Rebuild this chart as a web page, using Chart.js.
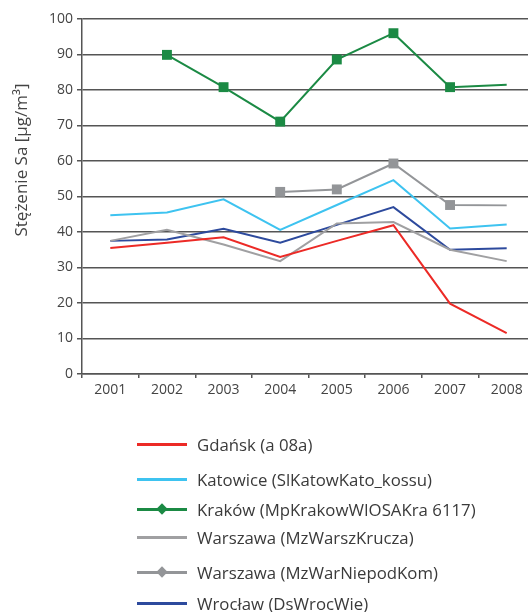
<!DOCTYPE html>
<html lang="pl">
<head>
<meta charset="UTF-8">
<title>Stężenie Sa</title>
<script src="https://cdn.jsdelivr.net/npm/chart.js"></script>
<style>
    body { margin: 0; width: 528px; height: 612px; overflow: hidden; background: #fff; font-family: 'Open Sans', sans-serif; }
    #wykres { position: absolute; left: 0; top: 0; }
    .poz { position: absolute; left: 137px; height: 20px; display: flex; align-items: center; white-space: nowrap; font-size: 16.8px; color: #3a3a3a; }
    .linia { position: relative; width: 50px; height: 3px; margin-right: 10px; }
    .romb { position: absolute; left: 21px; top: -3px; width: 8px; height: 8px; transform: rotate(45deg); }
</style>
</head>
<body>
<canvas id="wykres" width="560" height="612"></canvas>
<div id="legenda"></div>
<script>
// lata i wartości
const lata = ['2001', '2002', '2003', '2004', '2005', '2006', '2007', '2008'];
const gdansk = [35.5, 37.0, 38.5, 33.0, 37.5, 41.9, 19.8, 11.5];
const katowice = [44.7, 45.5, 49.2, 40.6, 47.6, 54.6, 41.0, 42.1];
const krakow = [null, 89.9, 80.8, 71.1, 88.6, 96.0, 80.8, 81.5];
const warszawaKrucza = [37.5, 40.6, 36.5, 31.8, 42.4, 42.8, 35.0, 31.8];
const warszawaNiepod = [null, null, null, 51.3, 52.0, 59.3, 47.6, 47.5];
const wroclaw = [37.5, 37.9, 40.9, 37.0, 42.0, 47.0, 35.0, 35.4];
const yTicks = [0, 10, 20, 30, 40, 50, 60, 70, 80, 90, 100];

const serie = [
    { label: 'Gdańsk (a 08a)', data: gdansk, kolor: '#ec2a26', punkty: null },
    { label: 'Katowice (SlKatowKato_kossu)', data: katowice, kolor: '#3ec3f0', punkty: null },
    { label: 'Kraków (MpKrakowWIOSAKra 6117)', data: krakow, kolor: '#1b8a44', punkty: [0, 7, 7, 7, 7, 7, 7, 0] },
    { label: 'Warszawa (MzWarszKrucza)', data: warszawaKrucza, kolor: '#a0a0a2', punkty: null },
    { label: 'Warszawa (MzWarNiepodKom)', data: warszawaNiepod, kolor: '#939598', punkty: [0, 0, 0, 7, 7, 7, 7, 0] },
    { label: 'Wrocław (DsWrocWie)', data: wroclaw, kolor: '#2d4a9d', punkty: null }
];

const tytulOsi = {
    id: 'tytulOsi',
    afterDraw(chart) {
        const c = chart.ctx;
        c.save();
        c.translate(22, 160);
        c.rotate(-Math.PI / 2);
        c.font = '17px "Open Sans"';
        c.fillStyle = '#444';
        c.textAlign = 'center';
        c.textBaseline = 'middle';
        c.fillText('Stężenie Sa [μg/m³]', 0, 0);
        c.restore();
    }
};

new Chart(document.getElementById('wykres'), {
    type: 'line',
    data: {
        labels: lata,
        datasets: serie.map(function (s) {
            return {
                label: s.label,
                data: s.data,
                borderColor: s.kolor,
                backgroundColor: s.kolor,
                borderWidth: 2,
                pointStyle: 'rect',
                pointRadius: s.punkty || 0,
                pointBorderWidth: 0,
                tension: 0
            };
        })
    },
    options: {
        responsive: false,
        animation: false,
        layout: { padding: { left: 30, top: 19, right: 25, bottom: 0 } },
        plugins: { legend: { display: false }, tooltip: { enabled: false } },
        scales: {
            x: {
                offset: true,
                grid: { offset: true, drawOnChartArea: false, drawTicks: true, tickLength: 4, color: '#555', lineWidth: 1.5 },
                border: { color: '#555', width: 1.5 },
                ticks: { color: '#444', font: { family: 'Open Sans', size: 14 }, padding: 4, maxRotation: 0 },
                afterFit(s) { s.height = 612 - 374; }
            },
            y: {
                min: 0,
                max: 100,
                afterBuildTicks(s) { s.ticks = yTicks.map(v => ({ value: v })); },
                grid: { color: '#555', lineWidth: 1.5, tickLength: 5 },
                border: { color: '#555', width: 1.5 },
                ticks: { color: '#444', font: { family: 'Open Sans', size: 14 }, padding: 4 },
                afterFit(s) { s.width = 52; }
            }
        }
    },
    plugins: [tytulOsi]
});

// legenda pod wykresem, jedna pozycja w wierszu
const srodki = [444, 479, 509, 537, 572, 603];
const legenda = document.getElementById('legenda');
serie.forEach(function (s, i) {
    const poz = document.createElement('div');
    poz.className = 'poz';
    poz.style.top = (srodki[i] - 10) + 'px';
    const linia = document.createElement('div');
    linia.className = 'linia';
    linia.style.background = s.kolor;
    if (s.punkty) {
        const romb = document.createElement('div');
        romb.className = 'romb';
        romb.style.background = s.kolor;
        linia.appendChild(romb);
    }
    poz.appendChild(linia);
    poz.appendChild(document.createTextNode(s.label));
    legenda.appendChild(poz);
});
</script>
</body>
</html>
